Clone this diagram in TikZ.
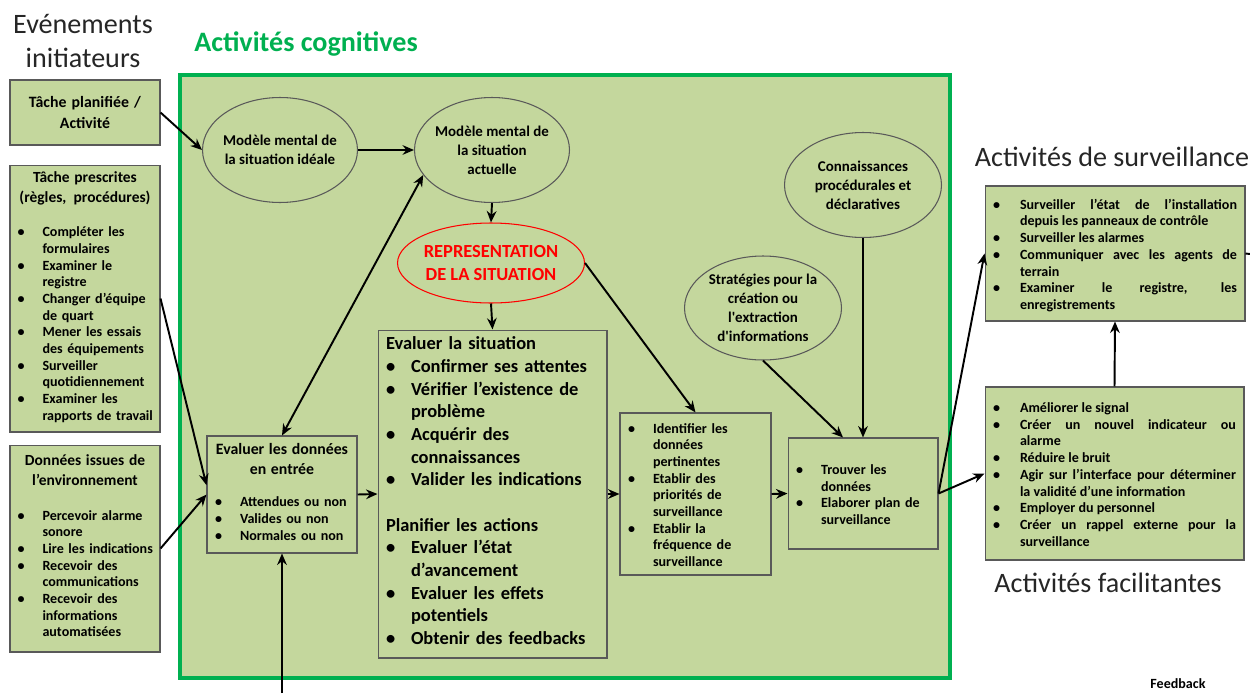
\documentclass[tikz,border=0pt]{standalone}
\usepackage{fontspec}
\setmainfont{Carlito}
\usepackage{xcolor}
\usetikzlibrary{shapes.geometric,shadows,arrows.meta}

\definecolor{boxgreen}{HTML}{C4D79D}
\definecolor{framegreen}{HTML}{00B050}
\definecolor{boxline}{HTML}{595959}
\definecolor{titlegray}{HTML}{262626}

\hyphenpenalty=10000
\exhyphenpenalty=10000

\newlength\bulind
\setlength\bulind{0.5cm}
\newskip\bulskip
\newcommand\bulalign{}
\newcommand\bul[1]{\par\bulskip=\baselineskip\relax\noindent\makebox[\bulind][l]{\textbullet}\parbox[t]{\dimexpr\hsize-\bulind\relax}{\bulalign\baselineskip=\bulskip\relax #1\strut}\par\prevdepth=\dp\strutbox}

\begin{document}
\begin{tikzpicture}[>={Stealth[length=6.5pt,width=5.5pt]},x=0.02cm,y=-0.02cm,
  box/.style={draw=boxline,line width=0.6pt,fill=boxgreen,drop shadow={opacity=0.3,shadow xshift=0.8pt,shadow yshift=-0.8pt},font=\bfseries\fontsize{8}{9.5}\selectfont,inner xsep=0.16cm,inner ysep=0pt,align=left},
  ellip/.style={ellipse,draw=boxline,line width=0.6pt,fill=boxgreen,inner xsep=-4pt,inner ysep=0pt,align=center,font=\bfseries\fontsize{8.5}{10.8}\selectfont},
  title/.style={font=\fontsize{16}{18.8}\selectfont,text=titlegray,align=center},
  arr/.style={->,line width=1.1pt}]

\useasboundingbox (0,0) rectangle (1250,693);

\node(init) at (83,41)[title] {Evénements\\initiateurs};
\node(cogn) at (306,44)[font=\bfseries\fontsize{16}{19}\selectfont,text=framegreen] {Activités cognitives};
\node(survt) at (1112,157)[title] {Activités de surveillance};
\node(facilt) at (1108,583)[title] {Activités facilitantes};
\node(fback) at (1178,684)[font=\bfseries\fontsize{8}{9.5}\selectfont] {Feedback};

% cadre des activites cognitives
\draw[framegreen,line width=2.8pt,fill=boxgreen] (180,75) rectangle (950,678);

% evenements initiateurs
\node(plan) at (85,112.5)[box,text width=2.68cm,minimum height=1.3cm,align=center,font=\bfseries\fontsize{9}{11.4}\selectfont] {Tâche planifiée /\\Activité};
\node(presc) at (85,298.5)[box,inner xsep=0.15cm,text width=2.7cm,minimum height=5.34cm] {{\centering\fontsize{8.8}{11.4}\selectfont Tâche prescrites\\(règles,\, procédures)\par}\vspace{10pt}
  \bul{Compléter les\\formulaires}
  \bul{Examiner le\\registre}
  \bul{Changer d’équipe\\de quart}
  \bul{Mener les essais\\des équipements}
  \bul{Surveiller\\quotidiennement}
  \bul{Examiner les\\\mbox{rapports de travail}}};
\node(envir) at (85,548.5)[box,inner xsep=0.15cm,text width=2.7cm,minimum height=4.14cm] {{\centering\fontsize{8.8}{11.4}\selectfont Données issues de\\l’environnement\par}\vspace{10pt}
  \bul{Percevoir alarme\\sonore}
  \bul{\mbox{Lire les indications}}
  \bul{Recevoir des\\communications}
  \bul{Recevoir des\\informations\\automatisées}};

% ellipses
\node(ideal) at (280,150)[ellip,minimum width=3.1cm,minimum height=2.1cm] {Modèle mental de\\la situation idéale};
\node(actu) at (492,150)[ellip,minimum width=3.1cm,minimum height=2.1cm] {Modèle mental de\\la situation\\actuelle};
\node(repr) at (491,263)[ellip,draw=red,text=red,minimum width=3.74cm,minimum height=1.6cm,font=\bfseries\fontsize{10.5}{13}\selectfont] {REPRESENTATION\\DE LA SITUATION};
\node(conn) at (863,185)[ellip,minimum width=3.14cm,minimum height=2.1cm] {Connaissances\\procédurales et\\déclaratives};
\node(strat) at (763,308)[ellip,minimum width=3.14cm,minimum height=2.08cm] {Stratégies pour la\\création ou\\l\textquotesingle extraction\\d\textquotesingle informations};

% boites du cadre
\node(evaldon) at (282,494.5)[box,text width=2.68cm,minimum height=2.34cm] {{\centering\fontsize{9}{11}\selectfont Evaluer les données\\en entrée\par}\vspace{9pt}
  \bul{Attendues ou non}
  \bul{Valides ou non}
  \bul{Normales ou non}};
\node(evalsit) at (492.5,494)[box,text width=4.26cm,minimum height=6.56cm,font=\bfseries\fontsize{10.5}{12.9}\selectfont] {Evaluer la situation
  \bul{Confirmer ses attentes}
  \bul{Vérifier l’existence de\\problème}
  \bul{Acquérir des\\connaissances}
  \bul{Valider les indications}
  \vspace{12.9pt}
  \noindent Planifier les actions
  \bul{Evaluer l’état\\d’avancement}
  \bul{Evaluer les effets\\potentiels}
  \bul{Obtenir des feedbacks}};
\node(ident) at (695.5,494)[box,text width=2.7cm,minimum height=3.24cm] {\bul{Identifier les\\données\\pertinentes}
  \bul{Etablir des\\priorités de\\surveillance}
  \bul{Etablir la\\fréquence de\\surveillance}};
\node(trouv) at (863,493.5)[box,text width=2.68cm,minimum height=2.22cm] {\bul{Trouver les\\données}
  \bul{Elaborer plan de\\surveillance}};

% activites de surveillance et facilitantes
\node(surv) at (1115,253.5)[box,text width=4.88cm,minimum height=2.7cm,align=justify] {\setlength\bulind{0.54cm}%
  \renewcommand\bulalign{\leftskip=0pt\rightskip=0pt\parfillskip=0pt plus 1fil\relax}%
  \bul{Surveiller l’état de l’installation depuis les panneaux de contrôle}
  \bul{Surveiller les alarmes}
  \bul{Communiquer avec les agents de terrain}
  \bul{Examiner le registre, les enregistrements}};
\node(facil) at (1114.5,473.5)[box,text width=4.86cm,minimum height=3.46cm,align=justify] {\setlength\bulind{0.54cm}%
  \renewcommand\bulalign{\leftskip=0pt\rightskip=0pt\parfillskip=0pt plus 1fil\relax}%
  \bul{Améliorer le signal}
  \bul{Créer un nouvel indicateur ou\linebreak alarme}
  \bul{Réduire le bruit}
  \bul{Agir sur l’interface pour déterminer\linebreak la validité d’une information}
  \bul{Employer du personnel}
  \bul{Créer un rappel externe pour la surveillance}};

% fleches
\draw[arr] (plan.east) -- (ideal.west);
\draw[arr] (ideal.east) -- (actu.west);
\draw[arr] (actu.south) -- (repr.north);
\draw[arr] (repr.south) -- (evalsit.north);
\draw[arr] (repr.east) -- (ident.north);
\draw[arr,<->] (evaldon.north) -- (actu.200);
\draw[arr] (presc.east) -- (evaldon.173);
\draw[arr] (envir.east) -- (evaldon.west);
\draw[arr] (evaldon.east) -- (evalsit.west);
\draw[arr] (evalsit.east) -- (ident.west);
\draw[arr] (ident.east) -- (trouv.west);
\draw[arr] (strat.south) -- ([xshift=-0.4cm]trouv.north);
\draw[arr] (conn.south) -- (trouv.north);
\draw[arr] (trouv.east) -- (surv.west);
\draw[arr] (trouv.east) -- (facil.west);
\draw[arr] (facil.north) -- (surv.south);

% feedback
\coordinate (fbin) at (282,693);
\coordinate (fbout) at (1250,254);
\draw[arr] (fbin) -- (evaldon.south);
\draw[line width=1.1pt] (surv.east) -- (fbout);

\end{tikzpicture}
\end{document}
